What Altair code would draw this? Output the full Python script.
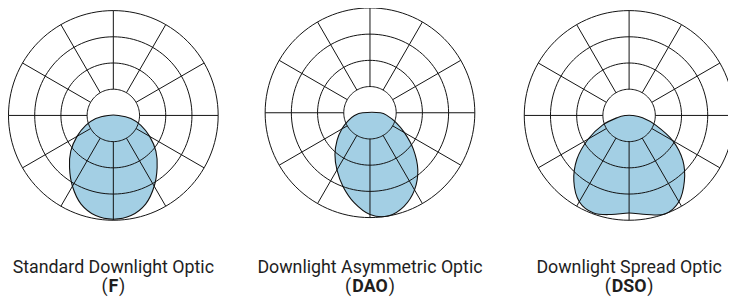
import altair as alt
import pandas as pd

# ---------------- data ----------------
optic_names = ["Standard Downlight Optic", "Downlight Asymmetric Optic", "Downlight Spread Optic"]
optic_codes = ["F", "DAO", "DSO"]

ring_levels = [25, 50, 75, 100]                 # % of peak intensity
spoke_angles = [0, 30, 60, 90, 120, 150, 180, 210, 240, 270, 300, 330]  # degrees

# relative intensity (% of peak), angle from nadir in degrees (+ = right)
curve_angles = [-90, -80, -70, -60, -50, -40, -30, -20, -10, 0, 10, 20, 30, 40, 50, 60, 70, 80, 90]
f_values   = [5, 17, 28, 40, 53, 65, 78, 90, 97, 99, 97, 90, 78, 65, 53, 40, 28, 17, 5]
dao_values = [7, 15, 22, 31, 41, 52, 63, 75, 87, 97, 100, 95, 85, 71, 54, 38, 26, 17, 10]
dso_values = [3, 11, 27, 45, 65, 82, 95, 99, 96, 93, 96, 100, 95, 82, 67, 48, 27, 13, 3]
series_values = [f_values, dao_values, dso_values]

# ---------------- layout / style ----------------
K = 1.06                      # px per % unit
W, H = 728, 291
CX = [106.5, 366.0, 628.0]    # panel centres, px in plot area
CY = [107.0, 104.3, 107.0]
CODE_HW = [5.8, 19.0, 18.4]   # half width of bold code text, px
LINE1_Y, LINE2_Y = 266.5, 285.5
FILL = "#a3cfe4"
INK = "#111111"
TEXT = "#1e1e1e"
FONT = "Roboto"
FS = 18

cx_expr = "[" + ",".join(f"{c / K:.4f}" for c in CX) + "][datum.i]"
cy_expr = "[" + ",".join(f"{c / K:.4f}" for c in CY) + "][datum.i]"
hw_expr = "[" + ",".join(f"{c / K:.4f}" for c in CODE_HW) + "][datum.i]"

xs = alt.Scale(domain=[0, W / K], nice=False, zero=False)
ys = alt.Scale(domain=[0, H / K], nice=False, zero=False, reverse=True)

# ---------------- tables ----------------
curve_df = pd.DataFrame(
    [{"i": i, "angle": a, "value": v}
     for i, vals in enumerate(series_values)
     for a, v in zip(curve_angles, vals)]
)

ring_df = pd.DataFrame(
    [{"i": i, "ring": r, "t": t}
     for i in range(len(optic_codes))
     for r in ring_levels
     for t in range(0, 361, 3)]
)

spoke_df = pd.DataFrame(
    [{"i": i, "angle": a, "r0": ring_levels[0], "r1": ring_levels[-1]}
     for i in range(len(optic_codes))
     for a in spoke_angles]
)

label_df = pd.DataFrame(
    [{"i": i, "name": n, "code": c} for i, (n, c) in enumerate(zip(optic_names, optic_codes))]
)

# ---------------- layers ----------------
curve = alt.Chart(curve_df).transform_calculate(
    x=f"{cx_expr} + datum.value * sin(datum.angle * PI / 180)",
    y=f"{cy_expr} + datum.value * cos(datum.angle * PI / 180)",
).mark_line(
    interpolate="cardinal-closed", fill=FILL, stroke=INK, strokeWidth=1.1
).encode(
    x=alt.X("x:Q", scale=xs, axis=None),
    y=alt.Y("y:Q", scale=ys, axis=None),
    detail="i:N",
    order="angle:Q",
)

rings = alt.Chart(ring_df).transform_calculate(
    x=f"{cx_expr} + datum.ring * sin(datum.t * PI / 180)",
    y=f"{cy_expr} + datum.ring * cos(datum.t * PI / 180)",
    key="datum.i * 1000 + datum.ring",
).mark_line(stroke=INK, strokeWidth=1).encode(
    x=alt.X("x:Q", scale=xs, axis=None),
    y=alt.Y("y:Q", scale=ys, axis=None),
    detail="key:N",
    order="t:Q",
)

spokes = alt.Chart(spoke_df).transform_calculate(
    x=f"{cx_expr} + datum.r0 * sin(datum.angle * PI / 180)",
    y=f"{cy_expr} + datum.r0 * cos(datum.angle * PI / 180)",
    x2=f"{cx_expr} + datum.r1 * sin(datum.angle * PI / 180)",
    y2=f"{cy_expr} + datum.r1 * cos(datum.angle * PI / 180)",
).mark_rule(stroke=INK, strokeWidth=1).encode(
    x=alt.X("x:Q", scale=xs, axis=None),
    y=alt.Y("y:Q", scale=ys, axis=None),
    x2="x2:Q",
    y2="y2:Q",
)

base_lbl = alt.Chart(label_df).transform_calculate(
    cx=cx_expr,
    hw=hw_expr,
    y1=f"{LINE1_Y / K}",
    y2=f"{LINE2_Y / K}",
    xo="datum.cx - datum.hw",
    xc="datum.cx + datum.hw",
    op="'('",
    cp="')'",
)

name_txt = base_lbl.mark_text(
    font=FONT, fontSize=FS, baseline="alphabetic", align="center", color=TEXT
).encode(
    x=alt.X("cx:Q", scale=xs, axis=None),
    y=alt.Y("y1:Q", scale=ys, axis=None),
    text="name:N",
)

code_txt = base_lbl.mark_text(
    font=FONT, fontSize=FS, fontWeight="bold", baseline="alphabetic", align="center", color=TEXT
).encode(
    x=alt.X("cx:Q", scale=xs, axis=None),
    y=alt.Y("y2:Q", scale=ys, axis=None),
    text="code:N",
)

open_txt = base_lbl.mark_text(
    font=FONT, fontSize=FS, baseline="alphabetic", align="right", color=TEXT
).encode(
    x=alt.X("xo:Q", scale=xs, axis=None),
    y=alt.Y("y2:Q", scale=ys, axis=None),
    text="op:N",
)

close_txt = base_lbl.mark_text(
    font=FONT, fontSize=FS, baseline="alphabetic", align="left", color=TEXT
).encode(
    x=alt.X("xc:Q", scale=xs, axis=None),
    y=alt.Y("y2:Q", scale=ys, axis=None),
    text="cp:N",
)

chart = alt.layer(
    curve, rings, spokes, name_txt, code_txt, open_txt, close_txt
).properties(
    width=W, height=H, padding=0,
    autosize=alt.AutoSizeParams(type="none"),
    background="white",
).configure_view(stroke=None)

chart.save("out.html", embed_options={"renderer": "svg", "actions": False})
